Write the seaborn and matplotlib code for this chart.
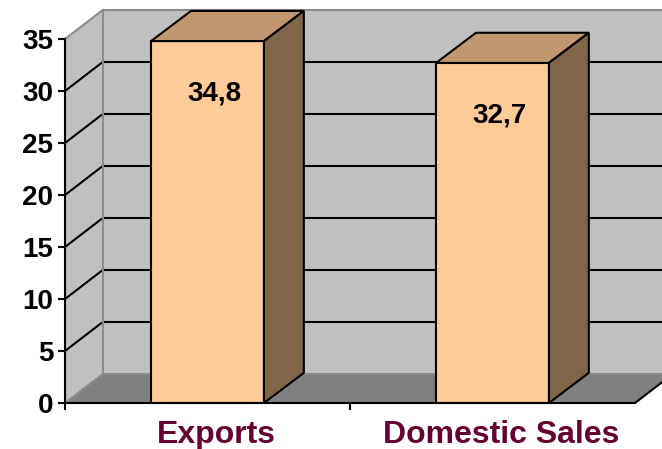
"""Exports vs domestic sales, drawn as an Excel-style 3D column chart."""
import matplotlib
matplotlib.use("Agg")
import matplotlib.pyplot as plt
from matplotlib.patches import Polygon
from matplotlib.transforms import ScaledTranslation
import seaborn as sns

categories = ["Exports", "Domestic Sales"]
values = [34.8, 32.7]
value_labels = ["34,8", "32,7"]
y_ticks = [0, 5, 10, 15, 20, 25, 30, 35]

FRONT = "#FFCC99"
TOP = "#C0976F"
SIDE = "#806549"
WALL = "#C0C0C0"
FLOOR = "#808080"
EDGE = "#8C8C8C"
LABEL = "#660033"

# depth offsets of the fake 3d (data units)
WDX, WDY = 0.133, 2.8
BDX, BDY = 0.14, 2.9
YMAX = 35
XR = 1.75
LW = 1.5

sns.set_theme(style="white")
plt.rcParams["font.family"] = ["Liberation Sans", "DejaVu Sans"]
plt.rcParams["font.weight"] = "bold"
plt.rcParams["text.color"] = "black"

fig = plt.figure(figsize=(6.62, 4.49), dpi=100)
ax = fig.add_axes([65 / 662, 46 / 449, 570 / 662, 364 / 449])
ax.set_facecolor("none")

sns.barplot(x=categories, y=values, color=FRONT, saturation=1, width=0.396,
            edgecolor="black", linewidth=LW, ax=ax, zorder=3)
bars = list(ax.patches)
ax.set_xlim(-0.5, 1.5)
ax.set_ylim(0, YMAX)

# walls and floor
x0w = -0.5
side_wall = Polygon([(x0w, 0), (x0w, YMAX), (x0w + WDX, YMAX + WDY), (x0w + WDX, WDY)],
                    facecolor=WALL, edgecolor="none", zorder=0.5, clip_on=False)
back_wall = Polygon([(x0w + WDX, WDY), (x0w + WDX, YMAX + WDY), (XR, YMAX + WDY), (XR, WDY)],
                    facecolor=WALL, edgecolor="none", zorder=0.5, clip_on=False)
floor = Polygon([(x0w, 0), (x0w + WDX, WDY), (1.5 + WDX, WDY), (1.5, 0)],
                facecolor=FLOOR, edgecolor="none", zorder=0.6, clip_on=False)
for p in (side_wall, back_wall, floor):
    ax.add_patch(p)

for v in y_ticks[1:-1]:
    ax.plot([x0w, x0w + WDX], [v, v + WDY], color="black", lw=LW, zorder=1, clip_on=False)
    ax.plot([x0w + WDX, XR], [v + WDY, v + WDY], color="black", lw=LW, zorder=1, clip_on=False)
edge_kw = dict(color=EDGE, lw=1.5, zorder=1.1, clip_on=False)
ax.plot([x0w, x0w + WDX], [YMAX, YMAX + WDY], **edge_kw)
ax.plot([x0w + WDX, XR], [YMAX + WDY, YMAX + WDY], **edge_kw)
ax.plot([x0w + WDX, x0w + WDX], [WDY, YMAX + WDY], **edge_kw)
ax.plot([x0w, x0w + WDX], [0, WDY], **edge_kw)
ax.plot([x0w + WDX, XR], [WDY, WDY], **edge_kw)
ax.plot([1.5, 1.5 + WDX], [0, WDY], color="black", lw=LW, zorder=1.1, clip_on=False)

# bar tops and sides
for bar, lab in zip(bars, value_labels):
    bx, bw, bh = bar.get_x(), bar.get_width(), bar.get_height()
    bar.set_clip_on(False)
    top = Polygon([(bx, bh), (bx + BDX, bh + BDY), (bx + bw + BDX, bh + BDY), (bx + bw, bh)],
                  facecolor=TOP, edgecolor="black", lw=LW, zorder=3, clip_on=False)
    side = Polygon([(bx + bw, 0), (bx + bw + BDX, BDY), (bx + bw + BDX, bh + BDY), (bx + bw, bh)],
                   facecolor=SIDE, edgecolor="black", lw=LW, zorder=3, clip_on=False)
    ax.add_patch(top)
    ax.add_patch(side)
    ax.annotate(lab, xy=(bx + bw / 2, bh), xytext=(5, -38), textcoords="offset points",
                ha="center", va="center", fontsize=20, fontweight="bold",
                color="black", zorder=5)

# axes
for s in ("top", "right"):
    ax.spines[s].set_visible(False)
for s in ("left", "bottom"):
    ax.spines[s].set_color("black")
    ax.spines[s].set_linewidth(LW)
    ax.spines[s].set_zorder(4)

ax.set_yticks(y_ticks)
ax.set_yticklabels([str(t) for t in y_ticks])
ax.tick_params(axis="y", direction="out", length=5, width=LW, color="black",
               labelsize=20, pad=3.5, left=True, labelcolor="black")
ax.set_xticks([0, 1])
ax.set_xticklabels(categories)
ax.set_xticks([-0.5, 0.5], minor=True)
ax.tick_params(axis="x", which="major", length=0, labelsize=23, pad=12, labelcolor=LABEL)
ax.tick_params(axis="x", which="minor", direction="out", length=5, width=LW,
               color="black", bottom=True)
for t in ax.get_yticklabels():
    t.set_fontweight("bold")
shift = ScaledTranslation(9 / 100, 0, fig.dpi_scale_trans)
for t in ax.get_xticklabels():
    t.set_fontweight("bold")
    t.set_transform(t.get_transform() + shift)
ax.set_xlabel("")
ax.set_ylabel("")
ax.grid(False)

fig.savefig("out.png", dpi=100)
